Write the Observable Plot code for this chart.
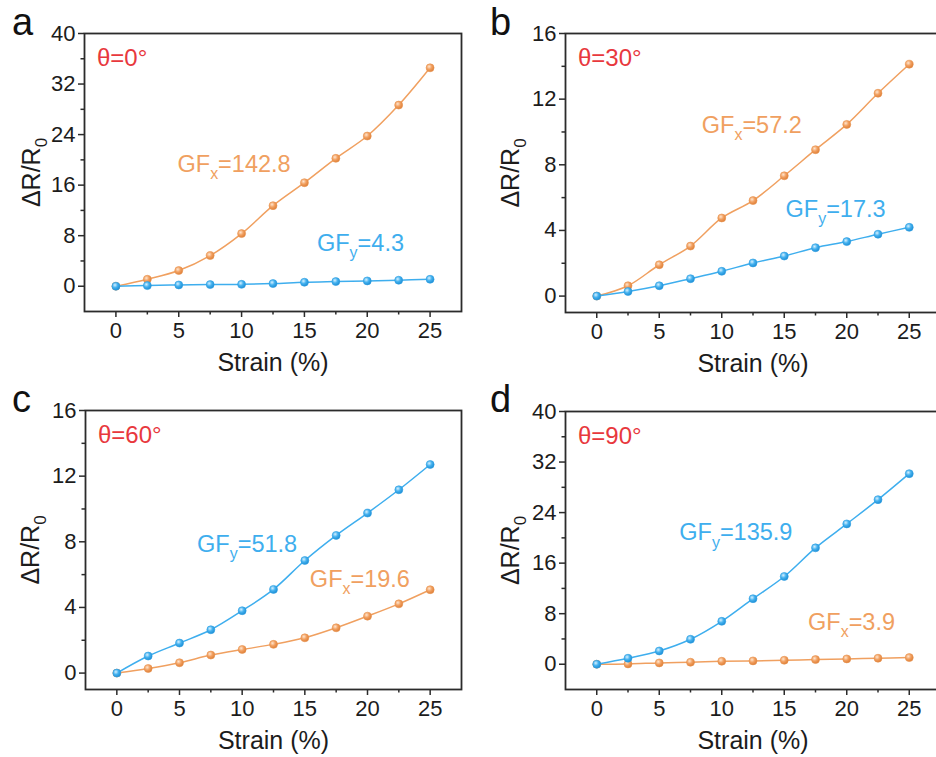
<!DOCTYPE html>
<html>
<head>
<meta charset="utf-8">
<script src="https://cdn.jsdelivr.net/npm/d3@7"></script>
<script src="https://cdn.jsdelivr.net/npm/@observablehq/plot@0.6"></script>
<style>
  html, body { margin: 0; padding: 0; background: #fff; }
  #figure { position: relative; width: 936px; height: 757px; overflow: hidden; background: #fff;
            font-family: Arial, "Liberation Sans", Helvetica, sans-serif; }
  #figure > svg.panel { position: absolute; }
  .letter { position: absolute; font-size: 38px; line-height: 1; color: #111; }
</style>
</head>
<body>
<div id="figure">
  <svg width="0" height="0" style="position:absolute">
    <defs>
      <radialGradient id="ballOrange" cx="38%" cy="35%" r="65%">
        <stop offset="0" stop-color="#ffe6cf"/>
        <stop offset="0.5" stop-color="#f2a162"/>
        <stop offset="1" stop-color="#df8038"/>
      </radialGradient>
      <radialGradient id="ballBlue" cx="38%" cy="35%" r="65%">
        <stop offset="0" stop-color="#d6f0ff"/>
        <stop offset="0.5" stop-color="#45b2ef"/>
        <stop offset="1" stop-color="#1f8fd6"/>
      </radialGradient>
    </defs>
  </svg>
</div>
<script>
// Strain steps (%) shared by every panel
const strain = [0, 2.5, 5, 7.5, 10, 12.5, 15, 17.5, 20, 22.5, 25];

// ΔR/R0 along x (orange) and y (blue) for each stretching angle
const dRx0  = [0, 1.1, 2.48, 4.85, 8.33, 12.75, 16.39, 20.24, 23.77, 28.67, 34.57];
const dRy0  = [0, 0.1, 0.2, 0.26, 0.3, 0.42, 0.63, 0.74, 0.84, 0.95, 1.1];
const dRx30 = [0, 0.63, 1.91, 3.05, 4.76, 5.82, 7.33, 8.92, 10.46, 12.36, 14.13];
const dRy30 = [0, 0.28, 0.63, 1.06, 1.51, 2.02, 2.44, 2.95, 3.32, 3.77, 4.19];
const dRx60 = [0, 0.28, 0.63, 1.10, 1.44, 1.75, 2.15, 2.76, 3.47, 4.22, 5.08];
const dRy60 = [0, 1.04, 1.83, 2.64, 3.80, 5.10, 6.86, 8.39, 9.75, 11.17, 12.71];
const dRx90 = [0, 0.05, 0.21, 0.32, 0.47, 0.53, 0.63, 0.74, 0.84, 0.95, 1.05];
const dRy90 = [0, 0.95, 2.1, 3.95, 6.79, 10.37, 13.89, 18.42, 22.21, 26.05, 30.16];

// Gauge factors printed beside the curves
const gfX = ["142.8", "57.2", "19.6", "3.9"];
const gfY = ["4.3", "17.3", "51.8", "135.9"];
const angles = ["θ=0°", "θ=30°", "θ=60°", "θ=90°"];
const letters = ["a", "b", "c", "d"];

// Axis ticks
const xMajor = [0, 5, 10, 15, 20, 25];
const xMinor = [2.5, 7.5, 12.5, 17.5, 22.5];
const yMajor40 = [0, 8, 16, 24, 32, 40];
const yMinor40 = [-4, 4, 12, 20, 28, 36];
const yMajor16 = [0, 4, 8, 12, 16];
const yMinor16 = [2, 6, 10, 14];

const ORANGE = "#f0a060";
const BLUE = "#3eaeee";
const RED = "#e8383d";
const INK = "#1c1c1c";
const FONT = 'Arial, "Liberation Sans", Helvetica, sans-serif';

const panels = [
  {left: 0,   top: 0,   width: 468, height: 380, m: [33, 7, 69, 84], yDomain: [-4, 40], yMajor: yMajor40, yMinor: yMinor40,
   orange: dRx0, blue: dRy0, lx: [4.9, 19.3], ly: [16.0, 6.8], ylabDx: -45},
  {left: 468, top: 0,   width: 480, height: 380, m: [33, 8, 68, 97], yDomain: [-1, 16], yMajor: yMajor16, yMinor: yMinor16,
   orange: dRx30, blue: dRy30, lx: [8.4, 10.4], ly: [15.1, 5.3], ylabDx: -47},
  {left: 0,   top: 380, width: 468, height: 377, m: [30, 7, 68, 85], yDomain: [-1, 16], yMajor: yMajor16, yMinor: yMinor16,
   orange: dRx60, blue: dRy60, lx: [15.4, 5.7], ly: [6.4, 7.84], ylabDx: -47},
  {left: 468, top: 380, width: 480, height: 377, m: [31, 8, 68, 97], yDomain: [-4, 40], yMajor: yMajor40, yMinor: yMinor40,
   orange: dRx90, blue: dRy90, lx: [16.9, 6.6], ly: [6.6, 20.8], ylabDx: -47}
];

// Turn "A_b rest" into A with subscript b followed by rest
function subscripts(svg) {
  d3.select(svg).selectAll("text").each(function () {
    const m = this.textContent.match(/^(.*)_(\w)(.*)$/);
    if (!m) return;
    const t = d3.select(this);
    t.text(null);
    t.append("tspan").text(m[1]);
    t.append("tspan").attr("font-size", "68%").attr("dy", "0.45em").text(m[2]);
    if (m[3]) t.append("tspan").attr("dy", "-0.306em").text(m[3]);
  });
}

const fig = document.getElementById("figure");

panels.forEach((p, i) => {
  const rows = s => strain.map((x, j) => ({x, y: s[j]}));
  const oRows = rows(p.orange);
  const bRows = rows(p.blue);
  const notes = [
    {x: p.lx[0], y: p.lx[1], text: "GF_x=" + gfX[i], c: ORANGE},
    {x: p.ly[0], y: p.ly[1], text: "GF_y=" + gfY[i], c: BLUE}
  ];
  const svg = Plot.plot({
    width: p.width,
    height: p.height,
    marginTop: p.m[0], marginRight: p.m[1], marginBottom: p.m[2], marginLeft: p.m[3],
    style: {fontFamily: FONT, fontSize: "22px", color: INK, background: "transparent", overflow: "visible"},
    x: {domain: [-2.5, 27.5]},
    y: {domain: p.yDomain},
    marks: [
      Plot.line(oRows, {x: "x", y: "y", stroke: ORANGE, strokeWidth: 1.5, curve: "catmull-rom"}),
      Plot.dot(oRows, {x: "x", y: "y", r: 4, fill: "url(#ballOrange)", stroke: "#e89350", strokeWidth: 0.6}),
      Plot.line(bRows, {x: "x", y: "y", stroke: BLUE, strokeWidth: 1.5, curve: "catmull-rom"}),
      Plot.dot(bRows, {x: "x", y: "y", r: 4, fill: "url(#ballBlue)", stroke: "#2f9fe2", strokeWidth: 0.6}),
      Plot.axisX({ticks: xMajor, tickSize: 6, tickPadding: 5, strokeWidth: 1.5, stroke: "#2b2b2b", label: null}),
      Plot.axisX({ticks: xMinor, tickSize: 3.5, strokeWidth: 1.5, stroke: "#2b2b2b", tickFormat: () => "", label: null}),
      Plot.axisY({ticks: p.yMajor, tickSize: 6, tickPadding: 3, strokeWidth: 1.5, stroke: "#2b2b2b", label: null}),
      Plot.axisY({ticks: p.yMinor.filter(v => v > p.yDomain[0]), tickSize: 3.5, strokeWidth: 1.5, stroke: "#2b2b2b", tickFormat: () => "", label: null}),
      Plot.frame({stroke: "#2b2b2b", strokeWidth: 1.8}),
      Plot.text([angles[i]], {text: d => d, frameAnchor: "top-left", dx: 12.5, dy: 32, lineAnchor: "bottom",
        textAnchor: "start", fill: RED, fontSize: 24}),
      Plot.text(["ΔR/R_0"], {text: d => d, frameAnchor: "left", rotate: -90, dx: p.ylabDx, lineAnchor: "bottom",
        textAnchor: "middle", fill: INK, fontSize: 25}),
      Plot.text(["Strain (%)"], {text: d => d, frameAnchor: "bottom", dy: 59, lineAnchor: "bottom",
        textAnchor: "middle", fill: INK, fontSize: 25}),
      Plot.text(notes, {x: "x", y: "y", text: "text", fill: "c", textAnchor: "start", lineAnchor: "middle", fontSize: 23.5})
    ]
  });
  subscripts(svg);
  svg.classList.add("panel");
  svg.style.left = p.left + "px";
  svg.style.top = p.top + "px";
  fig.appendChild(svg);

  const L = document.createElement("div");
  L.className = "letter";
  L.textContent = letters[i];
  L.style.left = (p.left + (i % 2 ? 22 : 12)) + "px";
  L.style.top = (p.top + (i < 2 ? 3 : 0)) + "px";
  fig.appendChild(L);
});
</script>
</body>
</html>
